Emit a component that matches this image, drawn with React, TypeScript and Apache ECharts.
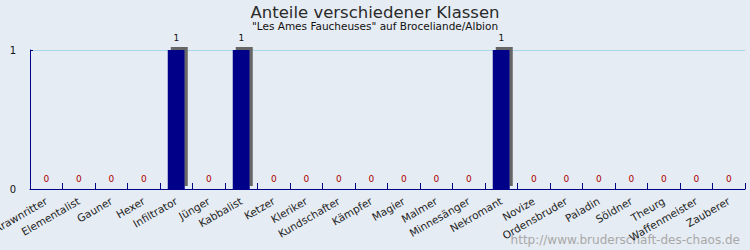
import React, { useEffect, useRef } from "react";
import * as echarts from "echarts";

const categories = [
  "Arawnritter", "Elementalist", "Gauner", "Hexer", "Infiltrator", "Jünger",
  "Kabbalist", "Ketzer", "Kleriker", "Kundschafter", "Kämpfer", "Magier",
  "Malmer", "Minnesänger", "Nekromant", "Novize", "Ordensbruder", "Paladin",
  "Söldner", "Theurg", "Waffenmeister", "Zauberer",
];
const values = [0, 0, 0, 0, 1, 0, 1, 0, 0, 0, 0, 0, 0, 0, 1, 0, 0, 0, 0, 0, 0, 0];
const yTicks = [0, 1];
const titleText = "Anteile verschiedener Klassen";
const subtitleText = '"Les Ames Faucheuses" auf Broceliande/Albion';
const watermarkText = "http://www.bruderschaft-des-chaos.de";

export default function App() {
  const ref = useRef<HTMLDivElement>(null);
  useEffect(() => {
    if (!ref.current) return;
    document.body.style.margin = "0";
    const chart = echarts.init(ref.current, null, { renderer: "svg" });
    chart.setOption({
      animation: false,
      backgroundColor: "#e6ecf3",
      textStyle: { fontFamily: "DejaVu Sans" },
      graphic: [
        {
          type: "text",
          x: 375,
          y: 12,
          style: {
            text: titleText,
            align: "center",
            verticalAlign: "middle",
            fontSize: 16.5,
            fill: "#2a2a2a",
            fontFamily: "DejaVu Sans",
          },
        },
        {
          type: "text",
          x: 375,
          y: 26,
          style: {
            text: subtitleText,
            align: "center",
            verticalAlign: "middle",
            fontSize: 10.5,
            fill: "#111",
            fontFamily: "DejaVu Sans",
          },
        },
        {
          type: "text",
          x: 740,
          y: 240,
          style: {
            text: watermarkText,
            align: "right",
            verticalAlign: "middle",
            fontSize: 12,
            fill: "#a8a8a8",
            fontFamily: "DejaVu Sans",
          },
        },
      ],
      grid: { left: 30, right: 5, top: 50, bottom: 61, containLabel: false, outerBoundsMode: "none" },
      xAxis: {
        type: "category",
        data: categories,
        axisLine: { lineStyle: { color: "#000088", width: 1 } },
        axisTick: { show: true, interval: 0, inside: true, length: 6, lineStyle: { color: "#000088", width: 1 } },
        axisLabel: {
          rotate: 30,
          fontSize: 10.5,
          color: "#222",
          margin: 11,
          interval: 0,
          fontFamily: "DejaVu Sans",
        },
        splitLine: { show: false },
      },
      yAxis: {
        type: "value",
        min: 0,
        max: 1,
        interval: 1,
        axisLine: { show: true, lineStyle: { color: "#000088" } },
        axisTick: { show: true, length: 3, inside: true, lineStyle: { color: "#000088" } },
        axisLabel: {
          fontSize: 10,
          color: "#111",
          margin: 14,
          customValues: yTicks,
          fontFamily: "DejaVu Sans",
        },
        splitLine: { show: true, lineStyle: { color: "#a8d8e8", width: 1 } },
      },
      series: [
        {
          type: "bar",
          barWidth: 17,
          data: values.map((v) => ({
            value: v,
            label: { color: v > 0 ? "#111" : "#aa0000", distance: v > 0 ? 8 : 6 },
          })),
          itemStyle: {
            color: "#000088",
            shadowColor: "#666666",
            shadowBlur: 0,
            shadowOffsetX: 3,
            shadowOffsetY: -3,
          },
          label: {
            show: true,
            position: "top",
            fontSize: 9,
            fontFamily: "DejaVu Sans",
          },
        },
      ],
    });
    return () => chart.dispose();
  }, []);
  return <div ref={ref} style={{ width: 750, height: 250 }} />;
}
